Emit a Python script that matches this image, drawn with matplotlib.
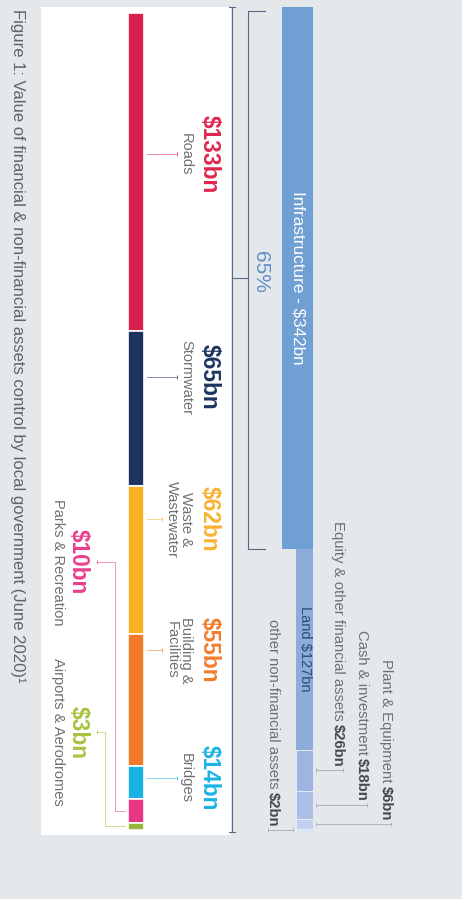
import numpy as np
import matplotlib.pyplot as plt
import matplotlib.transforms as mtransforms
from matplotlib.patches import Rectangle

plt.rcParams['font.family'] = ['Liberation Sans', 'DejaVu Sans']

# Local government assets, $bn (June 2020)
asset_names = ["Infrastructure", "Land", "Equity & other financial assets",
               "Cash & investment", "Plant & Equipment", "other non-financial assets"]
asset_values = [342, 127, 26, 18, 6, 2]
infra_share = "65%"

# Infrastructure by asset class, $bn
infra_names = ["Roads", "Stormwater", "Waste &\nWastewater", "Building &\nFacilities",
               "Bridges", "Parks & Recreation", "Airports & Aerodromes"]
infra_values = [133, 65, 62, 55, 14, 10, 3]

caption = ("Figure 1: Value of financial & non-financial assets control by "
           "local government (June 2020)\u00b9")

# styling
BG = "#e5e8eb"
asset_colors = ["#6f9fd3", "#8eacd9", "#9db5e0", "#acbfe6", "#c3cfee", "#dce3f4"]
infra_colors = ["#d71f4b", "#1d3461", "#f8b122", "#f37b28", "#17b2e3", "#ea3785", "#98b43c"]
label_colors = ["#e0264f", "#1d3461", "#f9b233", "#f47c2a", "#1ab3e4", "#e9408a", "#a6c43f"]
W, H = 462, 899

# page layout (pixels)
asset_label_x = [None, None, 338, 362, 386, 273]
infra_label_y = [154, 377, 519, 650, 778, 562, 732]
infra_label_side = ["r", "r", "r", "r", "r", "l", "l"]
infra_elbow_x = [None, None, None, None, None, 115, 105]

fig = plt.figure(figsize=(W / 100, H / 100), dpi=100, facecolor=BG)
page = fig.add_axes([0, 0, 1, 1])
page.set_xlim(0, W)
page.set_ylim(H, 0)
page.axis("off")
page.patch.set_alpha(0)


def px_axes(x0, y0, x1, y1):
    ax = fig.add_axes([x0 / W, 1 - y1 / H, (x1 - x0) / W, (y1 - y0) / H])
    ax.axis("off")
    ax.patch.set_alpha(0)
    return ax


def to_px(ax, v):
    # value on a bar axis -> pixel row on the page
    disp = ax.transData.transform((0, v))
    return page.transData.inverted().transform(disp)[1]


page.add_patch(Rectangle((41, 7), 190, 828, facecolor="white", edgecolor="none"))

# ---- total assets bar ----
ax_a = px_axes(282, 7, 313, 832)
total = sum(asset_values)
ax_a.set_xlim(0, 31)
ax_a.set_ylim(total, 0)
a_bottom = np.concatenate([[0], np.cumsum(asset_values)[:-1]])
for i, (v, b, c) in enumerate(zip(asset_values, a_bottom, asset_colors)):
    x0, w = (0, 31) if i == 0 else (14, 17)
    ax_a.bar(x0, v, bottom=b, width=w, align="edge", color=c,
             edgecolor="#e9eef7" if i > 1 else "none", linewidth=0.6)

ax_a.text(15.5, a_bottom[0] + asset_values[0] / 2,
          f"{asset_names[0]} - ${asset_values[0]}bn", rotation=-90,
          ha="center", va="center", color="white", fontsize=12.3)
ax_a.text(22.5, a_bottom[1] + asset_values[1] / 2,
          f"{asset_names[1]} ${asset_values[1]}bn", rotation=-90,
          ha="center", va="center", color="#2b4878", fontsize=10.5)

renderer = fig.canvas.get_renderer()
for i in range(2, len(asset_values)):
    y = to_px(ax_a, a_bottom[i] + asset_values[i] / 2)
    xc = asset_label_x[i]
    if xc > 300:
        xs = [316, xc + 5]
    else:
        xs = [xc - 5, 293]
    page.plot(xs, [y, y], color="#a3abb5", lw=0.6, marker="|", ms=3, mew=0.6)
    val = page.text(xc, y - 4, f"${asset_values[i]}bn", rotation=-90,
                    ha="center", va="bottom", fontsize=10.7, fontweight="bold",
                    color="#484848")
    h = val.get_window_extent(renderer=renderer).height
    page.text(xc, y - 4 - h - 3, asset_names[i], rotation=-90,
              ha="center", va="bottom", fontsize=10.7, color="#707070")

# 65% bracket against the total
infra_top = to_px(ax_a, 0)
infra_bot = to_px(ax_a, asset_values[0])
full_bot = to_px(ax_a, total)
line_kw = dict(color="#56698b", lw=0.8)
page.plot([232, 232], [infra_top, full_bot], **line_kw)
page.plot([229, 235], [infra_top, infra_top], **line_kw)
page.plot([229, 235], [full_bot, full_bot], **line_kw)
page.plot([265, 248, 248, 265], [infra_top + 4, infra_top + 4, infra_bot, infra_bot], **line_kw)
mid = (infra_top + infra_bot) / 2
page.plot([232, 248], [mid, mid], **line_kw)
page.text(261, mid - 6, infra_share, rotation=-90, ha="center", va="center",
          color="#5f8fc9", fontsize=15)

# ---- infrastructure breakdown bar ----
ax_i = px_axes(128, 13, 144, 830)
itotal = sum(infra_values)
ax_i.set_xlim(0, 1)
ax_i.set_ylim(itotal, 0)
i_bottom = np.concatenate([[0], np.cumsum(infra_values)[:-1]])
ax_i.bar([0] * len(infra_values), infra_values, bottom=i_bottom, width=1,
         align="edge", color=infra_colors, edgecolor="white", linewidth=1.2)

for i, name in enumerate(infra_names):
    top = to_px(ax_i, i_bottom[i])
    bot = to_px(ax_i, i_bottom[i] + infra_values[i])
    ly = infra_label_y[i]
    anchor = ly if top + 5 <= ly <= bot - 5 else (top + bot) / 2
    nlines = name.count("\n") + 1
    lead_kw = dict(color=label_colors[i], alpha=0.55, lw=0.7)
    if infra_label_side[i] == "r":
        page.text(221, ly, f"${infra_values[i]}bn", rotation=-90, ha="right",
                  va="center", fontsize=16.3, fontweight="bold", color=label_colors[i])
        page.text(193, ly, name, rotation=-90, ha="right", va="center",
                  fontsize=10.5, color="#707070", linespacing=1.05,
                  multialignment="center")
        end_x = 177 - 15 * (nlines - 1)
        if anchor == ly:
            page.plot([147, end_x], [ly, ly], **lead_kw)
        else:
            page.plot([147, 155, 155, end_x], [anchor, anchor, ly, ly], **lead_kw)
        page.plot([end_x], [ly], marker="|", ms=3, mew=0.7, color=label_colors[i], alpha=0.7)
    else:
        page.text(90, ly, f"${infra_values[i]}bn", rotation=-90, ha="right",
                  va="center", fontsize=16.3, fontweight="bold", color=label_colors[i])
        page.text(65, ly, name, rotation=-90, ha="right", va="center",
                  fontsize=10.5, color="#707070")
        ex = infra_elbow_x[i]
        page.plot([97, ex, ex, 125], [ly, ly, anchor, anchor], **lead_kw)
        page.plot([97], [ly], marker="|", ms=3, mew=0.7, color=label_colors[i], alpha=0.7)

page.text(18, 9, caption, rotation=-90, ha="center", va="top",
          fontsize=12, color="#626262")

fig.savefig("out.png", dpi=100, facecolor=BG)
